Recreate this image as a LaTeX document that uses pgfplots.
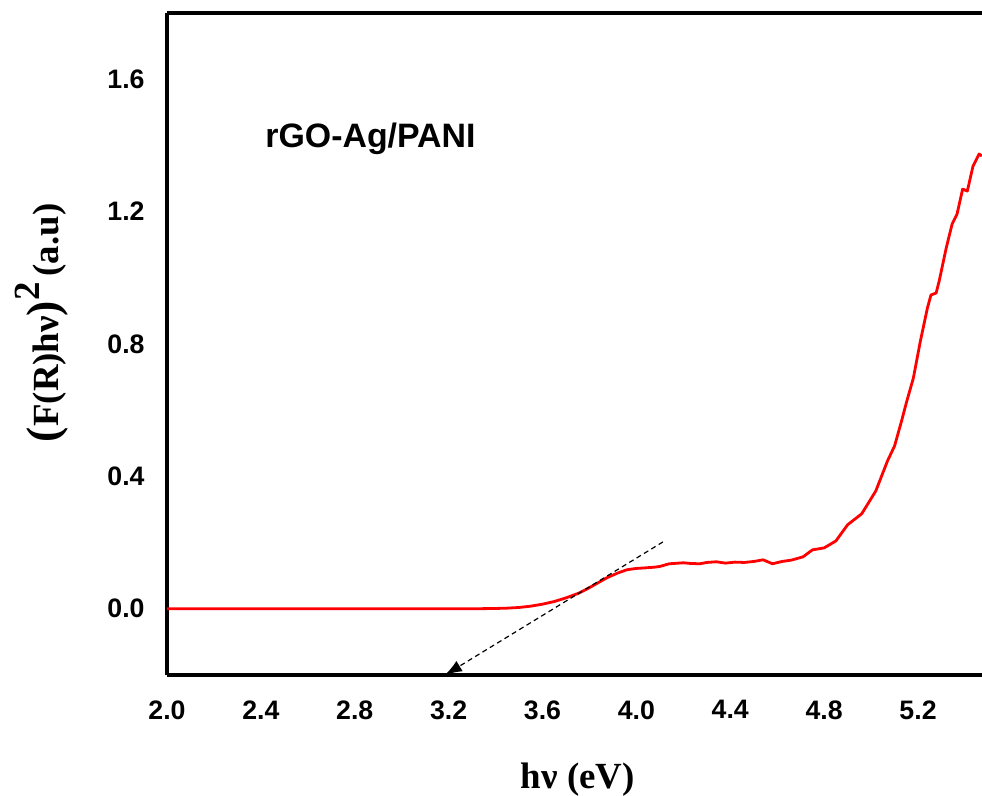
\documentclass[border=0pt]{standalone}
\usepackage{fontspec}
\setmainfont{Liberation Sans}
\newfontfamily\tnr{Liberation Serif}
\usepackage{pgfplots}
\pgfplotsset{compat=1.18}
\usetikzlibrary{arrows.meta}
\pgfplotstableread{
x y
2.00 0.000
2.50 0.000
3.00 0.000
3.30 0.000
3.40 0.001
3.45 0.002
3.50 0.004
3.55 0.008
3.60 0.014
3.65 0.022
3.70 0.033
3.75 0.046
3.79 0.060
3.83 0.076
3.875 0.094
3.92 0.108
3.96 0.118
4.00 0.122
4.045 0.124
4.08 0.126
4.10 0.128
4.14 0.136
4.20 0.139
4.23 0.137
4.27 0.136
4.30 0.140
4.34 0.142
4.38 0.138
4.42 0.141
4.46 0.140
4.50 0.143
4.54 0.148
4.58 0.136
4.62 0.143
4.66 0.147
4.71 0.157
4.75 0.178
4.80 0.184
4.85 0.205
4.90 0.254
4.96 0.287
5.02 0.356
5.07 0.447
5.10 0.492
5.13 0.568
5.15 0.622
5.18 0.697
5.21 0.809
5.24 0.909
5.255 0.948
5.277 0.954
5.29 0.990
5.32 1.090
5.345 1.162
5.366 1.192
5.39 1.268
5.41 1.262
5.434 1.337
5.46 1.374
5.472 1.368
}\curve
\begin{document}
\begin{tikzpicture}
\begin{axis}[
  scale only axis, width=407.5bp, height=331bp,
  xmin=2, xmax=5.4725, ymin=-0.2, ymax=1.8,
  separate axis lines,
  axis x line=box, axis y line=left,
  every outer y axis line/.append style={-},
  y axis line style={-},
  axis line style={line width=1.6bp, black},
  major tick length=0pt,
  clip=false,
  xtick={2,2.4,2.8,3.2,3.6,4,4.4,4.8,5.2},
  xticklabels={2.0,2.4,2.8,3.2,3.6,4.0,4.4,4.8,5.2},
  ytick={0,0.4,0.8,1.2,1.6},
  yticklabels={0.0,0.4,0.8,1.2,1.6},
  /pgf/number format/assume math mode=true,
  ticklabel style={font=\bfseries\fontsize{13.4}{16}\selectfont, inner sep=0pt},
  xticklabel style={anchor=north, yshift=-12.5bp},
  yticklabel style={anchor=east, xshift=-11bp},
  xlabel={hν (eV)},
  xlabel style={at={(rel axis cs:0.504,-0.1707)}, anchor=base, inner sep=0pt,
    font=\tnr\bfseries\fontsize{18.5}{22}\selectfont},
  ylabel={{\fontsize{23}{23}\selectfont(}F(R)hν{\fontsize{23}{23}\selectfont)}\raisebox{0.5em}{2}\,(a.u)},
  ylabel style={at={(rel axis cs:-0.1337,0.532)}, anchor=base, rotate=0, inner sep=0pt,
    font=\tnr\bfseries\fontsize{18.5}{22}\selectfont},
]
\addplot[red, line width=1.4bp, line join=round] table[x=x,y=y] {\curve};
\addplot[black, line width=0.6bp, dash pattern=on 2.5bp off 1.8bp,
  -{Latex[length=8.5bp,width=6bp]}] coordinates {(4.113,0.202) (3.1845,-0.2)};
\node[anchor=base west, inner sep=0pt, font=\bfseries\fontsize{17}{20}\selectfont]
  at (axis cs:2.4176,1.3947) {rGO-Ag/PANI};
\end{axis}
\pgfresetboundingbox
\path[use as bounding box] ([xshift=-83.5bp,yshift=-60.5bp]current axis.south west)
  rectangle ([yshift=6.5bp]current axis.north east);
\end{tikzpicture}
\end{document}
